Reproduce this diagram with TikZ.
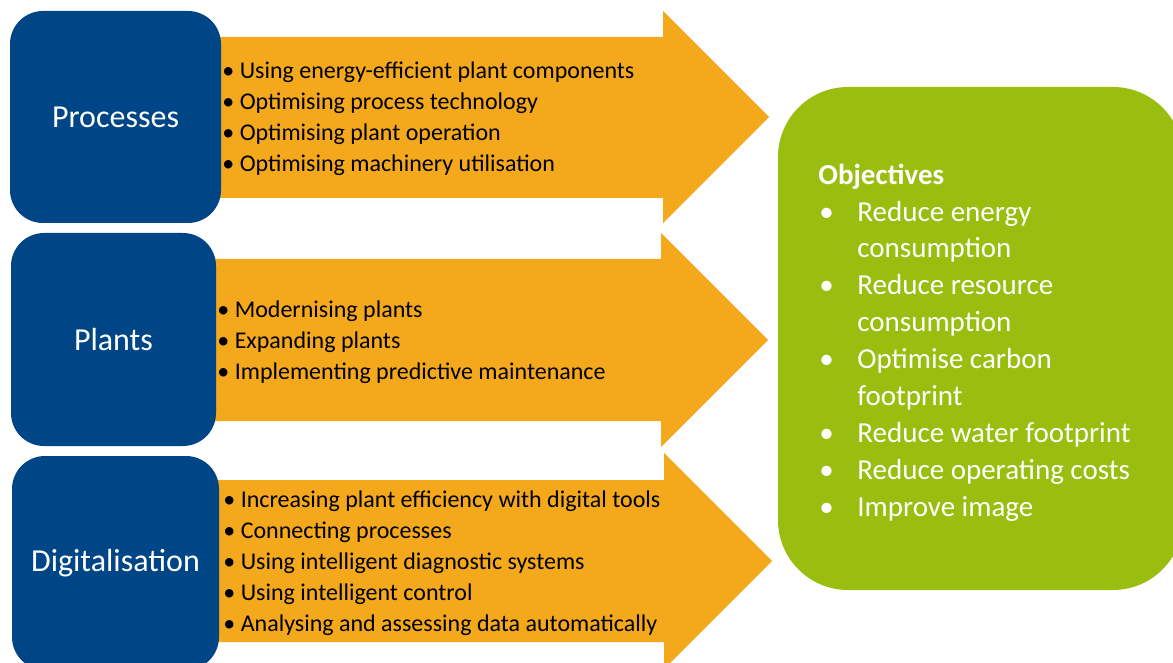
\documentclass[tikz,border=0pt]{standalone}
\usepackage{fontspec}
\setmainfont{Carlito}
\definecolor{topicblue}{RGB}{0,70,135}
\definecolor{arroworange}{RGB}{244,168,28}
\definecolor{goalgreen}{RGB}{153,190,15}
\newcommand{\goalitem}{\makebox[19.5pt][l]{\hspace{0.5pt}•}}
\newcommand{\goalgap}{\hspace*{19.5pt}}
\tikzset{
  topicbox/.style={fill=topicblue, rounded corners=16.5pt, inner sep=0pt,
    text=white, font=\fontsize{16}{19}\selectfont},
  arrowfill/.style={fill=arroworange},
  bulletlist/.style={anchor=west, inner sep=0pt, align=left,
    font=\fontsize{12}{15.5}\selectfont},
  goalbox/.style={fill=goalgreen, rounded corners=35pt, inner sep=0pt},
  goallist/.style={anchor=west, inner sep=0pt, align=left, text=white,
    font=\fontsize{14.5}{18.45}\selectfont}
}
\begin{document}
\begin{tikzpicture}[x=0.5pt, y=-0.5pt]
\useasboundingbox (0,0) rectangle (1173,663);
\clip (0,0) rectangle (1173,663);
% arrows
\fill [arrowfill] (219,37) -- (663,37) -- (663,11) -- (769,117) -- (663,223) -- (663,198) -- (219,198) -- cycle;
\fill [arrowfill] (215,259) -- (661,259) -- (661,233) -- (768,340) -- (661,447) -- (661,421) -- (215,421) -- cycle;
\fill [arrowfill] (218,480) -- (664,480) -- (664,453) -- (772,561) -- (664,669) -- (664,642) -- (218,642) -- cycle;
% topics
\node [topicbox, minimum width=105.5pt, minimum height=106pt] (processes) at (115.5,117) {Processes};
\node [topicbox, minimum width=102.5pt, minimum height=106.5pt] (plants) at (113.5,339.5) {Plants};
\node [topicbox, minimum width=103.5pt, minimum height=107pt] (digital) at (115.5,563) {Digitalisation};
% measures
\node [bulletlist] (processlist) at (222,119) {• Using energy-efficient plant components\\• Optimising process technology\\• Optimising plant operation\\• Optimising machinery utilisation};
\node [bulletlist] (plantlist) at (217,342) {• Modernising plants\\• Expanding plants\\• Implementing predictive maintenance};
\node [bulletlist] (digitallist) at (223,563) {• Increasing plant efficiency with digital tools\\• Connecting processes\\• Using intelligent diagnostic systems\\• Using intelligent control\\• Analysing and assessing data automatically};
% objectives
\node [goalbox, minimum width=202.5pt, minimum height=251.5pt] (objectives) at (980.5,338.5) {};
\node [goallist] (goallist) at (818,342.5) {\textbf{Objectives}\\
\goalitem Reduce energy\\\goalgap consumption\\
\goalitem Reduce resource\\\goalgap consumption\\
\goalitem Optimise carbon\\\goalgap footprint\\
\goalitem Reduce water footprint\\
\goalitem Reduce operating costs\\
\goalitem Improve image};
\end{tikzpicture}
\end{document}
